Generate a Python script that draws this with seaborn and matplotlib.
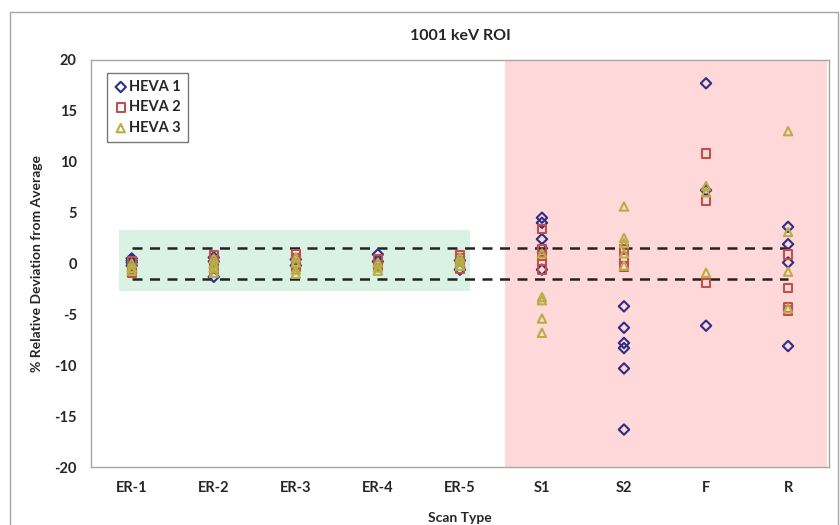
import numpy as np
import pandas as pd
import matplotlib
matplotlib.use('Agg')
import matplotlib.pyplot as plt
from matplotlib.patches import Rectangle
import seaborn as sns

sns.set_style('white')
plt.rcParams['font.family'] = ['Lato', 'DejaVu Sans']
plt.rcParams['axes.unicode_minus'] = False

scan_types = ['ER-1', 'ER-2', 'ER-3', 'ER-4', 'ER-5', 'S1', 'S2', 'F', 'R']

# % deviation from average
heva1 = {
    'ER-1': [0.5, 0.3, 0.1, -0.2],
    'ER-2': [-1.3, 0.2, 0.6],
    'ER-3': [0.4, -0.2],
    'ER-4': [0.9, 0.2],
    'ER-5': [-0.6, 0.3],
    'S1': [4.5, 4.0, 2.4, 1.5, -0.6],
    'S2': [-4.2, -6.3, -7.8, -8.3, -10.3, -16.3],
    'F': [17.7, 7.2, -6.1],
    'R': [3.6, 1.9, 0.1, -8.1],
}
heva2 = {
    'ER-1': [-0.9, -0.6, 0.2],
    'ER-2': [0.8, 0.3, -0.5],
    'ER-3': [0.9, 0.5, -0.3],
    'ER-4': [0.4, -0.2],
    'ER-5': [0.8, 0.5, -0.5],
    'S1': [3.4, 1.4, 0.8, 0.3, -0.6],
    'S2': [1.4, 0.5, -0.3],
    'F': [10.8, 6.2, -1.9],
    'R': [0.9, -2.4, -4.3, -4.6],
}
heva3 = {
    'ER-1': [-0.4, 0.0, -0.7],
    'ER-2': [0.5, 0.0, -0.4, -0.9],
    'ER-3': [0.6, 0.1, -0.6, -1.0],
    'ER-4': [0.1, -0.4, -0.7],
    'ER-5': [0.6, 0.2, -0.2],
    'S1': [1.0, -3.3, -3.6, -5.4, -6.8],
    'S2': [5.6, 2.5, 2.0, 1.0, -0.2],
    'F': [7.6, 7.0, -0.9],
    'R': [13.0, 3.1, -0.8, -4.4],
}

series = [('HEVA 1', heva1, 'D', '#2E2E86'),
          ('HEVA 2', heva2, 's', '#C0504D'),
          ('HEVA 3', heva3, '^', '#B8AE45')]

rows = []
for name, vals, _, _ in series:
    for scan, ys in vals.items():
        for y in ys:
            rows.append({'series': name, 'scan': scan, 'dev': y})
df = pd.DataFrame(rows)
df['pos'] = df['scan'].map({s: i for i, s in enumerate(scan_types)})

fig = plt.figure(figsize=(8.4, 5.25), dpi=100)
ax = fig.add_axes([0.108, 0.110, 0.879, 0.776])

# shaded regions and +/-1.5% band
ax.axvspan(4.55, 8.48, ymin=0.0, ymax=1.0, color='#FFD9D9', lw=0, zorder=0)
ax.fill_between([-0.15, 4.12], -2.7, 3.3, color='#D9F2E4', lw=0, zorder=0)
ax.plot([0, 8], [1.5, 1.5], ls=(0, (4, 3)), color='#222222', lw=1.8, zorder=1)
ax.plot([0, 8], [-1.5, -1.5], ls=(0, (4, 3)), color='#222222', lw=1.8, zorder=1)

for name, _, marker, col in series:
    sub = df[df['series'] == name]
    sns.scatterplot(data=sub, x='pos', y='dev', ax=ax, marker=marker, s=36 if marker != 'D' else 28,
                    facecolor='none', edgecolor=col, linewidth=1.5, label=name, zorder=3)

ax.set_xlim(-0.5, 8.5)
ax.set_ylim(-20, 20)
ax.set_yticks(np.arange(-20, 21, 5))
ax.set_xticks(range(len(scan_types)))
ax.set_xticklabels(scan_types)
ax.set_xticks(np.arange(-0.5, 9.0, 1.0), minor=True)
ax.tick_params(axis='x', which='major', length=0, pad=10, labelsize=10.5)
ax.tick_params(axis='x', which='minor', length=4, color='#999999', direction='out')
ax.tick_params(axis='y', length=4, color='#999999', direction='out', labelsize=10.5, pad=6)
for lab in ax.get_xticklabels() + ax.get_yticklabels():
    lab.set_fontweight('bold')
for sp in ax.spines.values():
    sp.set_color('#A6A6A6')
    sp.set_linewidth(1.0)

ax.set_xlabel('Scan Type', fontsize=10, fontweight='bold', labelpad=12)
ax.set_ylabel('% Relative Deviation from Average', fontsize=10, fontweight='bold', labelpad=8)
ax.set_title('1001 keV ROI', fontsize=11.5, fontweight='bold', pad=14)

leg = ax.legend(loc='upper left', bbox_to_anchor=(0.012, 0.985), frameon=True, fancybox=False,
                edgecolor='#555555', handletextpad=0.1, borderpad=0.45, labelspacing=0.45,
                handlelength=1.0, prop={'weight': 'bold', 'size': 10.5})
leg.get_frame().set_linewidth(1.0)

fig.patches.append(Rectangle((10 / 840, -0.01), 828 / 840, 1 - 12 / 525 + 0.01,
                             transform=fig.transFigure, fill=False, edgecolor='#A6A6A6', lw=1.0))

fig.savefig('out.png', dpi=100)
plt.close()
